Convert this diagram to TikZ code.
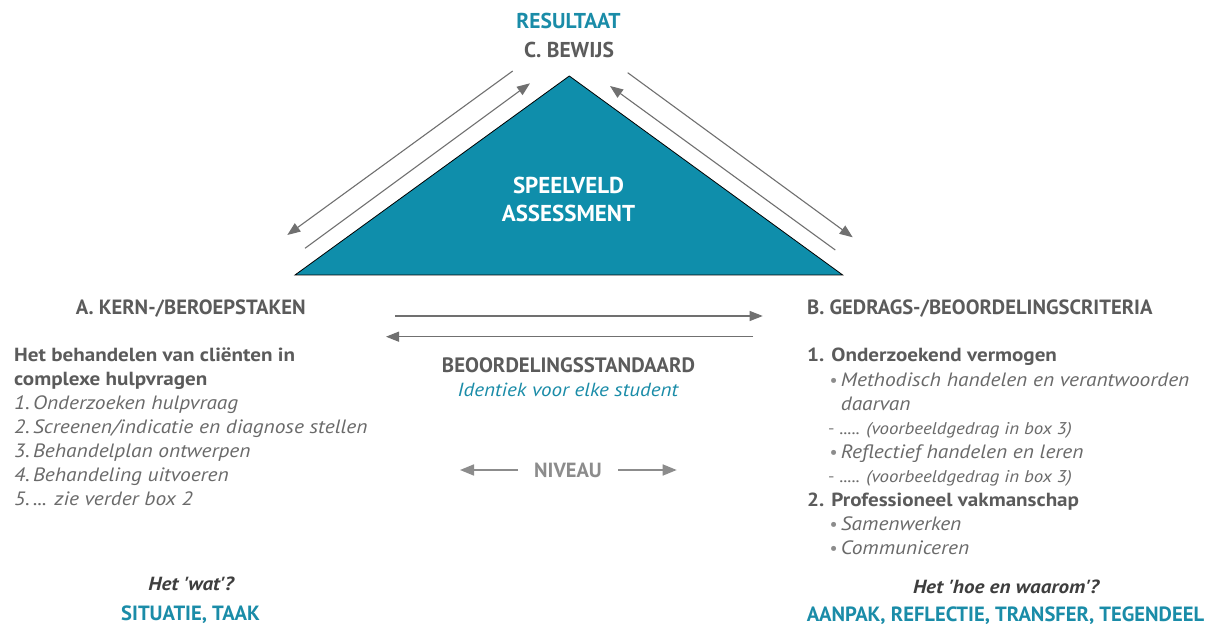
\documentclass[tikz,border=0pt]{standalone}
\usepackage{fontspec}
\setmainfont{PT Sans}
\newfontfamily\wide[FakeStretch=1.11]{PT Sans}
\usetikzlibrary{arrows.meta}
\definecolor{teal1}{HTML}{0F8EAB}
\definecolor{tealtxt}{HTML}{1A8CA8}
\definecolor{grayhead}{HTML}{5B5B5B}
\definecolor{grayit}{HTML}{6A6A6A}
\definecolor{grayarr}{HTML}{707070}
\definecolor{graylight}{HTML}{8C8C8C}
\definecolor{graydark}{HTML}{3E3E3E}
\tikzset{
  head/.style={inner sep=0pt, font=\fontsize{20.6}{24}\selectfont\bfseries, text=grayhead},
  bodyb/.style={inner sep=0pt, anchor=base west, font=\wide\fontsize{19}{24}\selectfont\bfseries, text=grayhead},
  item/.style={inner sep=0pt, anchor=base west, font=\wide\fontsize{19.3}{24}\selectfont\itshape, text=grayit},
  smallitem/.style={inner sep=0pt, anchor=base west, font=\wide\fontsize{17}{20}\selectfont\itshape, text=grayit},
  bul/.style={inner sep=0pt, anchor=base west, font=\fontsize{18}{24}\selectfont, text=graylight},
  arr/.style={draw=grayarr, line width=1.1pt, -{Triangle[length=13pt,width=10pt]}},
  arrl/.style={draw=graylight, line width=1.7pt, -{Triangle[length=14pt,width=11pt]}},
  tealhead/.style={inner sep=0pt, font=\fontsize{20.6}{24}\selectfont\bfseries, text=tealtxt},
  question/.style={inner sep=0pt, font=\wide\fontsize{19}{24}\selectfont\bfseries\itshape, text=graydark},
}
\begin{document}
\begin{tikzpicture}[x=1pt,y=-1pt]
\useasboundingbox[fill=white] (0,0) rectangle (1219,636);
% triangle
\coordinate (apex) at (569.3,76);
\coordinate (bl) at (295,275);
\coordinate (br) at (842.7,275);
\fill[teal1, draw=black, line width=0.8pt] (apex) -- (br) -- (bl) -- cycle;
\node[inner sep=0pt, anchor=base, font=\fontsize{23}{24}\selectfont\bfseries, text=white] (sp1) at (568.5,193.3) {SPEELVELD};
\node[inner sep=0pt, anchor=base, font=\fontsize{23}{24}\selectfont\bfseries, text=white] (sp2) at (568.5,221.7) {ASSESSMENT};
% top labels
\node[inner sep=0pt, anchor=base, font=\fontsize{21.5}{24}\selectfont\bfseries, text=tealtxt] (res) at (568.5,28.3) {RESULTAAT};
\node[inner sep=0pt, anchor=base, font=\fontsize{21.5}{24}\selectfont\bfseries, text=grayhead] (bew) at (569,57.3) {C. BEWIJS};
% diagonal arrows
\coordinate (l1s) at (512.7,71);
\coordinate (l1e) at (287.3,235);
\coordinate (l2s) at (305,248.3);
\coordinate (l2e) at (530,83.3);
\coordinate (r1s) at (835.3,250);
\coordinate (r1e) at (610,86);
\coordinate (r2s) at (627.7,72.7);
\coordinate (r2e) at (852.7,237.3);
\draw[arr] (l1s) -- (l1e);
\draw[arr] (l2s) -- (l2e);
\draw[arr] (r1s) -- (r1e);
\draw[arr] (r2s) -- (r2e);
% middle
\coordinate (m1s) at (395,316);
\coordinate (m1e) at (762.7,316);
\coordinate (m2s) at (753,336.7);
\coordinate (m2e) at (386,336.7);
\draw[arr] (m1s) -- (m1e);
\draw[arr] (m2s) -- (m2e);
\node[inner sep=0pt, anchor=base, font=\fontsize{20.8}{24}\selectfont\bfseries, text=grayhead] (bst) at (568.5,372.7) {BEOORDELINGSSTANDAARD};
\node[inner sep=0pt, anchor=base, font=\wide\fontsize{19}{24}\selectfont\itshape, text=tealtxt] (ide) at (568,396) {Identiek voor elke student};
\node[inner sep=0pt, anchor=base, font=\fontsize{20.5}{24}\selectfont\bfseries, text=graylight] (niv) at (568,477.3) {NIVEAU};
\coordinate (n1s) at (518,470);
\coordinate (n1e) at (460,470);
\coordinate (n2s) at (618,470);
\coordinate (n2e) at (676.7,470);
\draw[arrl] (n1s) -- (n1e);
\draw[arrl] (n2s) -- (n2e);
% left column
\node[head, anchor=base] (ah) at (190.7,314.3) {A. KERN-/BEROEPSTAKEN};
\node[bodyb] (a1) at (14,362) {Het behandelen van cliënten in};
\node[bodyb] (a2) at (14,386) {complexe hulpvragen};
\node[item] (a3) at (14,409.5) {1.\,Onderzoeken hulpvraag};
\node[item] (a4) at (14,433.5) {2.\,Screenen/indicatie en diagnose stellen};
\node[item] (a5) at (14,457.5) {3.\,Behandelplan ontwerpen};
\node[item] (a6) at (14,481.5) {4.\,Behandeling uitvoeren};
\node[item] (a7) at (14,505.5) {5.\,... zie verder box 2};
\node[question, anchor=base] (aq) at (191,590.7) {Het 'wat'?};
\node[tealhead, anchor=base] (at) at (190.5,620) {SITUATIE, TAAK};
% right column
\node[head, anchor=base west] (bh) at (807,314.3) {B. GEDRAGS-/BEOORDELINGSCRITERIA};
\node[bodyb] (b1) at (807,361.7) {1. Onderzoekend vermogen};
\node[bul] (bu1) at (829.5,386.7) {•};
\node[item] (b2) at (840.7,386.7) {Methodisch handelen en verantwoorden};
\node[item] (b3) at (840.7,410.3) {daarvan};
\node[bul] (bd1) at (828,435) {-};
\node[smallitem] (b4) at (839.5,435) {..... (voorbeeldgedrag in box 3)};
\node[bul] (bu2) at (829.5,458.7) {•};
\node[item] (b5) at (840.7,458.7) {Reflectief handelen en leren};
\node[bul] (bd2) at (828,482.7) {-};
\node[smallitem] (b6) at (839.5,482.7) {..... (voorbeeldgedrag in box 3)};
\node[bodyb] (b7) at (807,506.7) {2. Professioneel vakmanschap};
\node[bul] (bu3) at (829.5,530.7) {•};
\node[item] (b8) at (840.7,530.7) {Samenwerken};
\node[bul] (bu4) at (829.5,554.3) {•};
\node[item] (b9) at (840.7,554.3) {Communiceren};
\node[question, anchor=base] (bq) at (1006,593) {Het 'hoe en waarom'?};
\node[tealhead, anchor=base] (bt) at (1005.5,621.7) {AANPAK, REFLECTIE, TRANSFER, TEGENDEEL};
\end{tikzpicture}
\end{document}
